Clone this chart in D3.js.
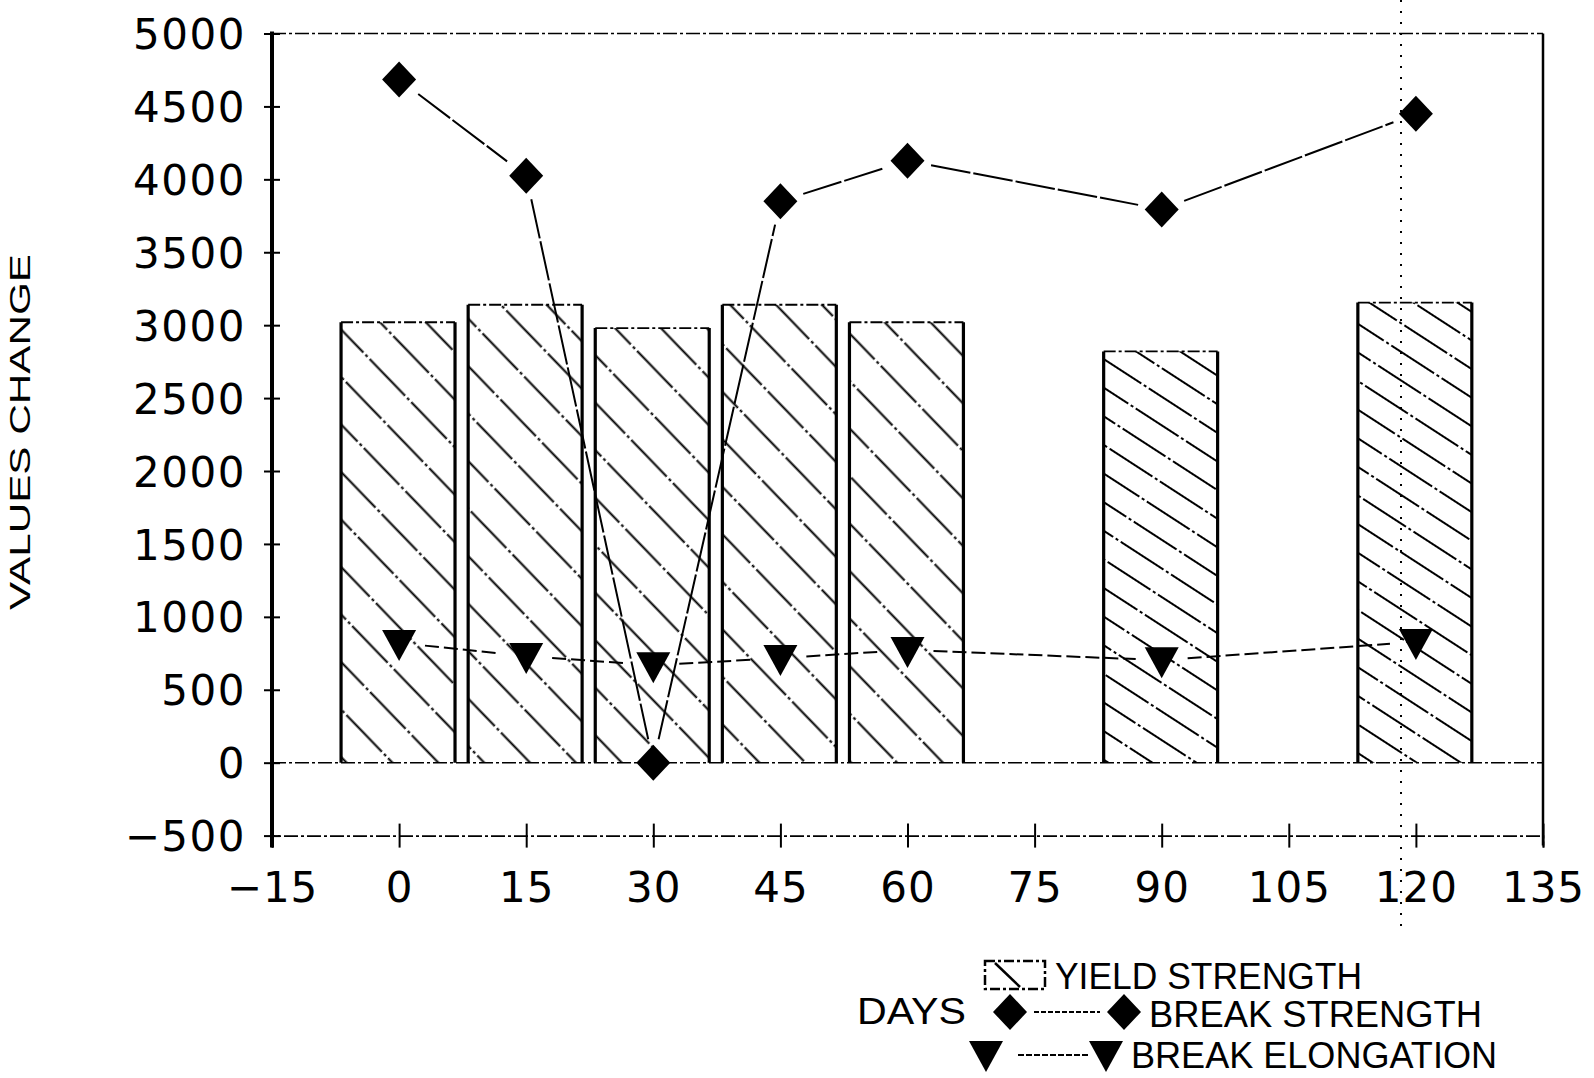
<!DOCTYPE html>
<html>
<head>
<meta charset="utf-8">
<script src="https://cdn.jsdelivr.net/npm/d3@7"></script>
<style>
  html,body{margin:0;padding:0;background:#fff;}
  svg{display:block;}
</style>
</head>
<body>
<script>
// ---- data ----
const days = [0, 15, 30, 45, 60, 90, 120];
const yieldStrength = [3020, 3140, 2980, 3140, 3020, 2820, 3155];
const breakStrength = [4685, 4024, 0, 3850, 4128, 3794, 4449];
const breakElongation = [821, 731, 668, 717, 773, 703, 828];
const xTickValues = [-15, 0, 15, 30, 45, 60, 75, 90, 105, 120, 135];
const yTickValues = [-500, 0, 500, 1000, 1500, 2000, 2500, 3000, 3500, 4000, 4500, 5000];
const yAxisTitle = "VALUES CHANGE";
const xAxisTitle = "DAYS";
const legendLabels = ["YIELD STRENGTH", "BREAK STRENGTH", "BREAK ELONGATION"];

const W = 1594, H = 1078;
const svg = d3.select("body").append("svg").attr("width", W).attr("height", H);
svg.append("rect").attr("width", W).attr("height", H).attr("fill", "#fff");

const x = d3.scaleLinear().domain([-15, 135]).range([272, 1543]);
const y = d3.scaleLinear().domain([-500, 5000]).range([835.6, 33.5]);

const defs = svg.append("defs");
function hatch(id, angle, spacing) {
  const p = defs.append("pattern").attr("id", id).attr("patternUnits", "userSpaceOnUse")
    .attr("width", 60).attr("height", spacing)
    .attr("patternTransform", `rotate(${angle})`);
  p.append("line").attr("x1", 0).attr("x2", 60).attr("y1", spacing / 2).attr("y2", spacing / 2)
    .attr("stroke", "#000").attr("stroke-width", 2.2).attr("stroke-dasharray", "26,3,3,3");
}
hatch("hatchA", 46, 33);
hatch("hatchB", 33, 24);

const fontNum = "'DejaVu Sans', sans-serif";
const fontNarrow = "'Liberation Sans Narrow', 'Liberation Sans', Arial, sans-serif";

// scan artefact: vertical dotted line
svg.append("line").attr("x1", 1401).attr("x2", 1401).attr("y1", 0).attr("y2", 935)
  .attr("stroke", "#000").attr("stroke-width", 2).attr("stroke-dasharray", "2,9");

// top border
svg.append("line").attr("x1", x(-15)).attr("x2", x(135)).attr("y1", y(5000)).attr("y2", y(5000))
  .attr("stroke", "#000").attr("stroke-width", 1.6).attr("stroke-dasharray", "14,3,3,3");
// right border
svg.append("line").attr("x1", x(135)).attr("x2", x(135)).attr("y1", y(5000)).attr("y2", y(-500) + 10)
  .attr("stroke", "#000").attr("stroke-width", 2.5);
// zero line
svg.append("line").attr("x1", x(-15)).attr("x2", x(135)).attr("y1", y(0)).attr("y2", y(0))
  .attr("stroke", "#000").attr("stroke-width", 1.6).attr("stroke-dasharray", "14,3,3,3");

// bars
const bars = svg.append("g");
days.forEach((d, i) => {
  const x0 = x(d - 6.85), x1 = x(d + 6.6), yt = y(yieldStrength[i]), yb = y(0);
  bars.append("rect").attr("x", x0).attr("y", yt).attr("width", x1 - x0).attr("height", yb - yt)
    .attr("fill", `url(#${i < 5 ? "hatchA" : "hatchB"})`);
  bars.append("line").attr("x1", x0).attr("x2", x0).attr("y1", yt).attr("y2", yb)
    .attr("stroke", "#000").attr("stroke-width", 3.2);
  bars.append("line").attr("x1", x1).attr("x2", x1).attr("y1", yt).attr("y2", yb)
    .attr("stroke", "#000").attr("stroke-width", 3.2);
  bars.append("line").attr("x1", x0).attr("x2", x1).attr("y1", yt).attr("y2", yt)
    .attr("stroke", "#000").attr("stroke-width", 1.8).attr("stroke-dasharray", "12,3,3,3");
});

// axes
const xAxis = svg.append("g").attr("transform", `translate(0,${y(-500)})`)
  .call(d3.axisBottom(x).tickValues(xTickValues).tickSize(12)
    .tickFormat(v => v < 0 ? "\u2212" + Math.abs(v) : String(v)));
xAxis.select(".domain").attr("stroke", "#000").attr("stroke-width", 1.6).attr("stroke-dasharray", "14,3,3,3");
xAxis.selectAll(".tick line").attr("y1", -12).attr("y2", 12).attr("stroke", "#000").attr("stroke-width", 2);
xAxis.selectAll(".tick text").attr("y", 66).attr("dy", 0).attr("font-family", fontNum)
  .attr("font-size", 42).attr("fill", "#000").attr("letter-spacing", 1);

const yAxis = svg.append("g").attr("transform", `translate(${x(-15)},0)`)
  .call(d3.axisLeft(y).tickValues(yTickValues).tickSize(8)
    .tickFormat(v => v < 0 ? "\u2212" + Math.abs(v) : String(v)));
yAxis.select(".domain").attr("stroke", "#000").attr("stroke-width", 4)
  .attr("d", `M0,${y(5000) - 2}V${y(-500) + 12}`);
yAxis.selectAll(".tick line").attr("x1", -8).attr("x2", 8).attr("stroke", "#000").attr("stroke-width", 2);
yAxis.selectAll(".tick text").attr("x", -26).attr("dy", "0.36em").attr("font-family", fontNum)
  .attr("font-size", 42).attr("fill", "#000").attr("letter-spacing", 1.5);

// y-axis title
svg.append("text").attr("transform", `translate(30,432) rotate(-90)`)
  .attr("text-anchor", "middle").attr("font-family", fontNarrow).attr("font-size", 30)
  .attr("textLength", 356).attr("lengthAdjust", "spacingAndGlyphs").text(yAxisTitle);

// lines with gaps at markers
function gapLine(vals, gap, dash, width) {
  const g = svg.append("g");
  for (let i = 0; i < days.length - 1; i++) {
    const ax = x(days[i]), ay = y(vals[i]), bx = x(days[i + 1]), by = y(vals[i + 1]);
    const dx = bx - ax, dy = by - ay, L = Math.hypot(dx, dy);
    const ux = dx / L, uy = dy / L;
    g.append("line").attr("x1", ax + ux * gap).attr("y1", ay + uy * gap)
      .attr("x2", bx - ux * gap).attr("y2", by - uy * gap)
      .attr("stroke", "#000").attr("stroke-width", width).attr("stroke-dasharray", dash);
  }
}
gapLine(breakStrength, 24, "40,3", 2);
gapLine(breakElongation, 26, "14,5", 2);

const diamond = "M0,-18L17,0L0,18L-17,0Z";
const triDown = "M-17,-13L17,-13L0,18Z";
svg.append("g").selectAll("path").data(days).join("path")
  .attr("d", diamond).attr("fill", "#000")
  .attr("transform", (d, i) => `translate(${x(d)},${y(breakStrength[i])})`);
svg.append("g").selectAll("path").data(days).join("path")
  .attr("d", triDown).attr("fill", "#000")
  .attr("transform", (d, i) => `translate(${x(d)},${y(breakElongation[i])})`);

// legend
const lg = svg.append("g");
const lfs = 37;
// row 1
lg.append("rect").attr("x", 985).attr("y", 961).attr("width", 60).attr("height", 28)
  .attr("fill", "none").attr("stroke", "#000").attr("stroke-width", 2.5).attr("stroke-dasharray", "10,3,3,3");
lg.append("line").attr("x1", 995).attr("y1", 963).attr("x2", 1020).attr("y2", 987)
  .attr("stroke", "#000").attr("stroke-width", 2.5);
lg.append("text").attr("x", 1055).attr("y", 989).attr("font-family", fontNarrow).attr("font-size", lfs)
  .attr("textLength", 307).attr("lengthAdjust", "spacingAndGlyphs").text(legendLabels[0]);
// row 2
lg.append("text").attr("x", 857).attr("y", 1024).attr("font-family", fontNarrow).attr("font-size", lfs)
  .attr("textLength", 109).attr("lengthAdjust", "spacingAndGlyphs").text(xAxisTitle);
lg.append("path").attr("d", diamond).attr("transform", "translate(1010,1012)").attr("fill", "#000");
lg.append("line").attr("x1", 1034).attr("x2", 1100).attr("y1", 1012).attr("y2", 1012)
  .attr("stroke", "#000").attr("stroke-width", 2).attr("stroke-dasharray", "5,2");
lg.append("path").attr("d", diamond).attr("transform", "translate(1124,1012)").attr("fill", "#000");
lg.append("text").attr("x", 1149).attr("y", 1027).attr("font-family", fontNarrow).attr("font-size", lfs)
  .attr("textLength", 333).attr("lengthAdjust", "spacingAndGlyphs").text(legendLabels[1]);
// row 3
lg.append("path").attr("d", triDown).attr("transform", "translate(986,1054)").attr("fill", "#000");
lg.append("line").attr("x1", 1018).attr("x2", 1090).attr("y1", 1055).attr("y2", 1055)
  .attr("stroke", "#000").attr("stroke-width", 2).attr("stroke-dasharray", "6,2");
lg.append("path").attr("d", triDown).attr("transform", "translate(1106,1054)").attr("fill", "#000");
lg.append("text").attr("x", 1131).attr("y", 1068).attr("font-family", fontNarrow).attr("font-size", lfs)
  .attr("textLength", 366).attr("lengthAdjust", "spacingAndGlyphs").text(legendLabels[2]);
</script>
</body>
</html>
